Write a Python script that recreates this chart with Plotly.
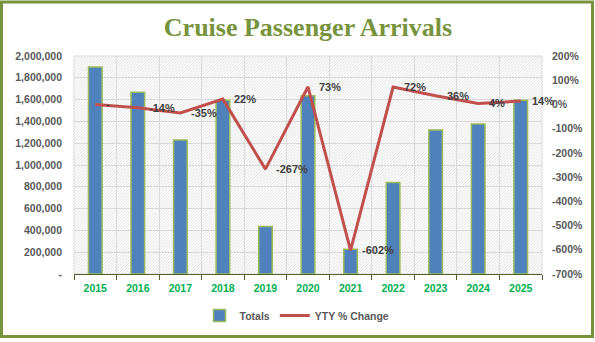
import plotly.graph_objects as go
import base64

years = ["2015", "2016", "2017", "2018", "2019", "2020", "2021", "2022", "2023", "2024", "2025"]
totals = [1900000, 1668000, 1230000, 1595000, 435000, 1635000, 228000, 840000, 1321000, 1376000, 1595000]
yty_change = [0, -14, -35, 22, -267, 73, -602, 72, 36, 4, 14]
yty_labels = ["-", "-14%", "-35%", "22%", "-267%", "73%", "-602%", "72%", "36%", "4%", "14%"]

left_ticks = list(range(0, 2000001, 200000))
left_ticktext = ["-" if v == 0 else f"{v:,}" for v in left_ticks]
right_ticks = list(range(-700, 201, 100))
right_ticktext = [f"{v}%" for v in right_ticks]

W, H = 595, 342
ML, MR, MT, MB = 74, 53, 56, 66
PW, PH = W - ML - MR, H - MT - MB

def px_x(p):
    return (p - ML) / PW

def px_y(p):
    return (H - MB - p) / PH

svg = (
    f"<svg xmlns='http://www.w3.org/2000/svg' width='{PW}' height='{PH}'>"
    "<defs><pattern id='p' width='3' height='3' patternUnits='userSpaceOnUse'>"
    "<path d='M-1,1 L1,-1 M0,3 L3,0 M2,4 L4,2' stroke='#d4d4d4' stroke-width='0.7'/>"
    "</pattern></defs><rect width='100%' height='100%' fill='url(#p)'/></svg>"
)
svg_uri = "data:image/svg+xml;base64," + base64.b64encode(svg.encode()).decode()

fig = go.Figure()
fig.add_trace(go.Bar(
    x=years, y=totals, name="Totals", yaxis="y",
    marker=dict(color="#4F81BD", line=dict(color="#9BBB59", width=1.5)),
    width=0.32,
))
fig.add_trace(go.Scatter(
    x=years, y=yty_change, name="YTY % Change", yaxis="y2",
    mode="lines", line=dict(color="#C0504D", width=3),
))

label_font = dict(family="Liberation Sans", size=11, color="#404040", weight="bold")
annotations = [
    dict(x=i, y=v, xref="x", yref="y2", text=t, showarrow=False,
         xanchor="left", yanchor="middle", xshift=9, font=label_font)
    for i, (v, t) in enumerate(zip(yty_change, yty_labels))
]

tick_font = dict(family="Liberation Sans", size=10.5, color="#595959", weight="bold")

fig.update_layout(
    width=W, height=H,
    margin=dict(l=ML, r=MR, t=MT, b=MB),
    paper_bgcolor="white", plot_bgcolor="rgba(0,0,0,0)",
    title=dict(text="<b>Cruise Passenger Arrivals</b>", x=0.5, xref="paper",
               xanchor="center", y=1 - 27 / H, yanchor="middle",
               font=dict(family="Liberation Serif", size=26, color="#77933C")),
    xaxis=dict(type="category", categoryorder="array", categoryarray=years,
               range=[-0.5, len(years) - 0.5],
               tickson="boundaries", showgrid=True, gridcolor="#D9D9D9",
               gridwidth=1, ticks="outside", ticklen=5, tickcolor="#4F6228",
               showline=True, linecolor="#4F6228", linewidth=1,
               tickfont=dict(family="Liberation Sans", size=10.5, color="#00B050", weight="bold"),
               ticklabelstandoff=4),
    yaxis=dict(range=[0, 2000000], tickvals=left_ticks, ticktext=left_ticktext,
               showgrid=True, gridcolor="#D9D9D9", gridwidth=1, zeroline=False,
               tickfont=tick_font, ticklabelstandoff=11),
    yaxis2=dict(range=[-700, 200], tickvals=right_ticks, ticktext=right_ticktext,
                overlaying="y", side="right", showgrid=False, zeroline=False,
                tickfont=tick_font, ticklabelstandoff=9),
    legend=dict(orientation="h", x=px_x(297), xanchor="center", y=px_y(318), yanchor="middle",
                font=dict(family="Liberation Sans", size=10.5, color="#595959", weight="bold"),
                itemwidth=30, tracegroupgap=0),
    showlegend=True,
    annotations=annotations,
    images=[dict(source=svg_uri, xref="paper", yref="paper", x=0, y=1, sizex=1, sizey=1,
                 sizing="stretch", layer="below", xanchor="left", yanchor="top")],
    shapes=[
        dict(type="rect", xref="paper", yref="paper", x0=0, x1=1, y0=0, y1=1,
             line=dict(color="#D9D9D9", width=1), layer="below"),
        dict(type="rect", xref="paper", yref="paper", x0=px_x(1.5), x1=px_x(592.5),
             y0=px_y(1.5), y1=px_y(339), line=dict(color="#77933C", width=3), layer="above"),
    ],
)

fig.write_html("out.html")
